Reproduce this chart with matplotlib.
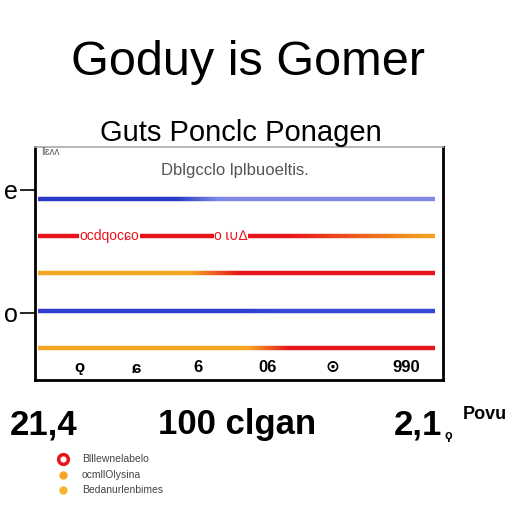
import numpy as np
import matplotlib.pyplot as plt
from matplotlib.collections import LineCollection
from matplotlib.colors import to_rgb

plt.rcParams['font.family'] = ['Liberation Sans', 'DejaVu Sans']

title = "Goduy is Gomer"
subtitle = "Guts Ponclc Ponagen"
note = "Dblgcclo lplbuoeltis."

# horizontal series: level, colour left, colour right, fade start, fade end (x)
levels = [5, 4, 3, 2, 1]
left_colors = ['#2a3cc6', '#e8141c', '#f5a623', '#2e3ed0', '#f5a623']
right_colors = ['#7f8ae6', '#f2a020', '#e5141a', '#3447d6', '#e5141a']
fade_from = [35, 62, 38, 50, 52]
fade_to = [45, 95, 50, 60, 62]

xticks = [11, 25, 40, 57, 73, 91]
xtick_labels = ['ǫ', 'ɕ', '6', '06', '⊙', '990']
yticks = [5.24, 1.95]
ytick_labels = ['e', 'o']

stats = ['21,4', '100 clgan', '2,1', 'Povu']
legend_labels = ['Blllewnelabelo', 'ocmllOlysina', 'Bedanurlenbimes']
legend_colors = ['#e8141c', '#f5a623', '#f7b52c']

fig = plt.figure(figsize=(5.12, 5.12), dpi=100)
ax = fig.add_axes([0.068, 0.258, 0.797, 0.455])

x = np.linspace(0.7, 98, 200)
for lv, c1, c2, f0, f1 in zip(levels, left_colors, right_colors, fade_from, fade_to):
    t = np.clip((x - f0) / (f1 - f0), 0, 1)
    a, b = np.array(to_rgb(c1)), np.array(to_rgb(c2))
    cols = [tuple(a + (b - a) * ti) for ti in t[:-1]]
    pts = np.column_stack([x, np.full_like(x, lv)]).reshape(-1, 1, 2)
    segs = np.concatenate([pts[:-1], pts[1:]], axis=1)
    ax.add_collection(LineCollection(segs, colors=cols, linewidths=3.2, capstyle='butt'))

ax.text(11, 4, 'ocdqocɕo', color='#e8141c', fontsize=10, va='center', ha='left',
        bbox=dict(facecolor='white', edgecolor='none', pad=0.5))
ax.text(44, 4, 'o ɩ∪∆', color='#e8141c', fontsize=10, va='center', ha='left',
        bbox=dict(facecolor='white', edgecolor='none', pad=0.5))
ax.text(1.5, 6.25, 'ǁɛʌʌ', fontsize=7, color='#555555', va='center')

ax.set_xlim(0, 100)
ax.set_ylim(0.15, 6.38)
ax.set_xticks(xticks)
ax.set_xticklabels(xtick_labels, fontsize=12, weight='bold')
ax.tick_params(axis='x', length=0, pad=-14)
ax.set_yticks(yticks)
ax.set_yticklabels(ytick_labels, fontsize=18)
ax.tick_params(axis='y', length=11, width=1.2, pad=1)
for s in ['left', 'right', 'bottom']:
    ax.spines[s].set_linewidth(2)
ax.spines['top'].set_color('#aaaaaa')
ax.spines['top'].set_linewidth(1.2)

fig.text(0.485, 0.878, title, ha='center', va='center', fontsize=35)
fig.text(0.47, 0.74, subtitle, ha='center', va='center', fontsize=21)
fig.text(0.458, 0.667, note, ha='center', va='center', fontsize=12, color='#555555')

fig.text(0.02, 0.17, stats[0], ha='left', va='center', fontsize=25, weight='bold')
fig.text(0.308, 0.17, stats[1], ha='left', va='center', fontsize=25, weight='bold')
fig.text(0.77, 0.17, stats[2], ha='left', va='center', fontsize=25, weight='bold')
fig.text(0.868, 0.148, 'ϙ', ha='left', va='center', fontsize=9, weight='bold')
fig.text(0.903, 0.19, stats[3], ha='left', va='center', fontsize=13, weight='bold')

for i, (lab, col) in enumerate(zip(legend_labels, legend_colors)):
    yy = 0.104 - i * 0.031
    if i == 0:
        fig.lines.append(plt.Line2D([0.123], [yy], marker='o', markersize=7, mfc='white',
                                    mec=col, mew=2.5, transform=fig.transFigure))
    else:
        fig.lines.append(plt.Line2D([0.123], [yy], marker='o', markersize=5, color=col,
                                    transform=fig.transFigure))
    fig.text(0.16, yy, lab, ha='left', va='center', fontsize=7.5, color='#444444')

fig.savefig('out.png', dpi=100)
